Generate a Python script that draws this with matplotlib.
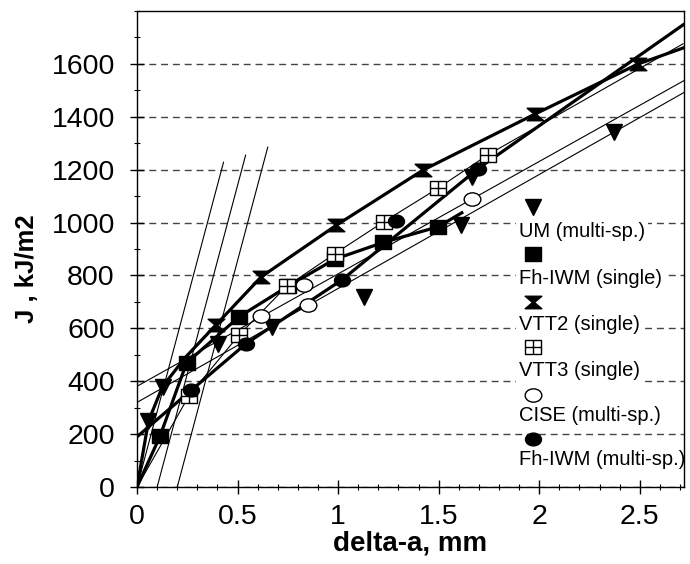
import matplotlib
matplotlib.use("Agg")
import matplotlib.pyplot as plt
from matplotlib.path import Path
from matplotlib.ticker import MultipleLocator, FixedLocator

plt.rcParams['font.family'] = ['Liberation Sans', 'DejaVu Sans']

# ---------------- data ----------------
# UM (multi-specimen) points and its regression line
um_x = [0.057, 0.127, 0.403, 0.670, 1.13, 1.61, 1.665, 2.37]
um_y = [249, 377, 541, 604, 720, 990, 1173, 1341]
um_fit_x = [0.0, 2.72]
um_fit_y = [320, 1492]

# Fh-IWM (single)
fhs_x = [0.114, 0.246, 0.508, 0.750, 0.985, 1.225, 1.497]
fhs_y = [192, 469, 644, 759, 862, 925, 984]
fhs_line_x = [0.0, 0.114, 0.246, 0.508, 0.750, 0.985, 1.225, 1.497, 1.615]
fhs_line_y = [0, 192, 469, 644, 759, 862, 925, 984, 1037]

# VTT2 (single)
vtt2_x = [0.391, 0.618, 0.989, 1.421, 1.978, 2.493]
vtt2_y = [612, 795, 989, 1198, 1410, 1600]
vtt2_line_x = [0.0, 0.057, 0.127, 0.239, 0.391, 0.618, 0.989, 1.421, 1.978, 2.493, 2.715]
vtt2_line_y = [0, 250, 380, 489, 612, 795, 989, 1198, 1410, 1600, 1660]

# VTT3 (single)
vtt3_x = [0.259, 0.505, 0.744, 0.985, 1.227, 1.497, 1.746]
vtt3_y = [346, 573, 759, 883, 1003, 1130, 1257]
vtt3_line_x = [0.0, 0.259, 0.505, 0.744, 0.985, 1.227, 1.497, 1.746, 2.715]
vtt3_line_y = [0, 346, 573, 759, 883, 1003, 1130, 1257, 1676]

# CISE (multi-specimen) points and regression line
cise_x = [0.616, 0.828, 0.850, 1.666]
cise_y = [646, 765, 687, 1090]
cise_fit_x = [0.0, 2.72]
cise_fit_y = [381, 1537]

# Fh-IWM (multi-specimen)
fhm_x = [0.268, 0.542, 1.020, 1.290, 1.696]
fhm_y = [365, 542, 784, 1006, 1204]
fhm_line_x = [0.0, 0.268, 0.542, 1.020, 1.696, 2.716]
fhm_line_y = [190, 365, 542, 784, 1204, 1748]

# blunting / offset lines (start on x axis, end points)
blunt_x0 = [0.0, 0.1, 0.2]
blunt_x1 = [0.430, 0.540, 0.650]
blunt_y1 = [1228, 1255, 1285]

x_ticks = [0, 0.5, 1, 1.5, 2, 2.5]
x_ticklabels = ['0', '0.5', '1', '1.5', '2', '2.5']
y_ticks = [0, 200, 400, 600, 800, 1000, 1200, 1400, 1600]
y_ticklabels = [str(v) for v in y_ticks]

legend_labels = ['UM (multi-sp.)', 'Fh-IWM (single)', 'VTT2 (single)',
                 'VTT3 (single)', 'CISE (multi-sp.)', 'Fh-IWM (multi-sp.)']

# ---------------- marker shapes ----------------
sq_path = Path([(-1, -0.85), (1, -0.85), (1, 0.85), (-1, 0.85), (-1, -0.85)],
               [Path.MOVETO, Path.LINETO, Path.LINETO, Path.LINETO, Path.CLOSEPOLY])
hour_path = Path([(-1, 0.75), (1, 0.75), (0.12, 0), (1, -0.75), (-1, -0.75), (-0.12, 0), (-1, 0.75)],
                 [Path.MOVETO] + [Path.LINETO] * 5 + [Path.CLOSEPOLY])
xsq_path = Path([(-1, -0.85), (1, -0.85), (1, 0.85), (-1, 0.85), (-1, -0.85),
                 (0, -0.85), (0, 0.85), (-1, 0), (1, 0)],
                [Path.MOVETO, Path.LINETO, Path.LINETO, Path.LINETO, Path.CLOSEPOLY,
                 Path.MOVETO, Path.LINETO, Path.MOVETO, Path.LINETO])
uc = Path.unit_circle()
ell_path = Path(uc.vertices * [1.0, 0.8], uc.codes)

styles = [
    dict(marker='v', ms=11, mfc='black', mec='black'),
    dict(marker=sq_path, ms=12, mfc='black', mec='black'),
    dict(marker=hour_path, ms=12, mfc='black', mec='black'),
    dict(marker=xsq_path, ms=12, mfc='white', mec='black', mew=1.0),
    dict(marker=ell_path, ms=12, mfc='white', mec='black', mew=1.0),
    dict(marker=ell_path, ms=11.5, mfc='black', mec='black'),
]

# ---------------- figure ----------------
fig = plt.figure(figsize=(6.9, 5.64), dpi=100)
ax = fig.add_axes([0.1986, 0.1365, 0.7928, 0.844])

THICK = 2.3
THIN = 0.8

# blunting lines
for x0, x1, y1 in zip(blunt_x0, blunt_x1, blunt_y1):
    ax.plot([x0, x1], [0, y1], color='black', lw=THIN)

# fit / connecting lines
ax.plot(um_fit_x, um_fit_y, color='black', lw=THIN)
ax.plot(cise_fit_x, cise_fit_y, color='black', lw=THIN)
ax.plot(vtt3_line_x, vtt3_line_y, color='black', lw=THIN)
ax.plot(fhs_line_x, fhs_line_y, color='black', lw=THICK)
ax.plot(vtt2_line_x, vtt2_line_y, color='black', lw=THICK)
ax.plot(fhm_line_x, fhm_line_y, color='black', lw=THICK)

series = [(um_x, um_y), (fhs_x, fhs_y), (vtt2_x, vtt2_y),
          (vtt3_x, vtt3_y), (cise_x, cise_y), (fhm_x, fhm_y)]
for (xs, ys), st in zip(series, styles):
    ax.plot(xs, ys, ls='none', zorder=4, **st)

ax.set_xlim(0, 2.72)
ax.set_ylim(0, 1800)
ax.xaxis.set_major_locator(FixedLocator(x_ticks))
ax.set_xticklabels(x_ticklabels)
ax.yaxis.set_major_locator(FixedLocator(y_ticks))
ax.set_yticklabels(y_ticklabels)
ax.xaxis.set_minor_locator(MultipleLocator(0.1))
ax.yaxis.set_minor_locator(MultipleLocator(100))
ax.tick_params(which='major', direction='inout', length=10, width=1.0,
               labelsize=20.5, top=False, right=False)
ax.tick_params(which='minor', direction='inout', length=5, width=0.8,
               top=False, right=False)
ax.tick_params(axis='x', which='major', pad=7)
ax.tick_params(axis='y', which='major', pad=11)

ax.set_axisbelow(True)
ax.grid(axis='y', which='major', linestyle=(0, (5, 3.5)), color='#444444', lw=1.0)

for sp in ax.spines.values():
    sp.set_linewidth(1.0)
    sp.set_zorder(7)

ax.set_xlabel('delta-a, mm', fontsize=20, fontweight='bold', va='top')
ax.xaxis.set_label_coords(0.5, -0.092)
ax.set_ylabel('J , kJ/m2', fontsize=18.5, fontweight='bold')
ax.yaxis.set_label_coords(-0.18, 0.458)

# legend: marker row above each label
leg_marker_y = [0.588, 0.489, 0.389, 0.294, 0.193, 0.101]
leg_text_y = [0.536, 0.439, 0.342, 0.244, 0.151, 0.057]
for lab, st, ym, yt in zip(legend_labels, styles, leg_marker_y, leg_text_y):
    ax.plot([0.723], [ym], transform=ax.transAxes, ls='none', zorder=6,
            clip_on=False, **st)
    ax.text(0.698, yt, lab, transform=ax.transAxes, fontsize=14.5,
            ha='left', va='center', zorder=5,
            bbox=dict(fc='white', ec='none', pad=2.0))

fig.savefig('out.png', dpi=100)
